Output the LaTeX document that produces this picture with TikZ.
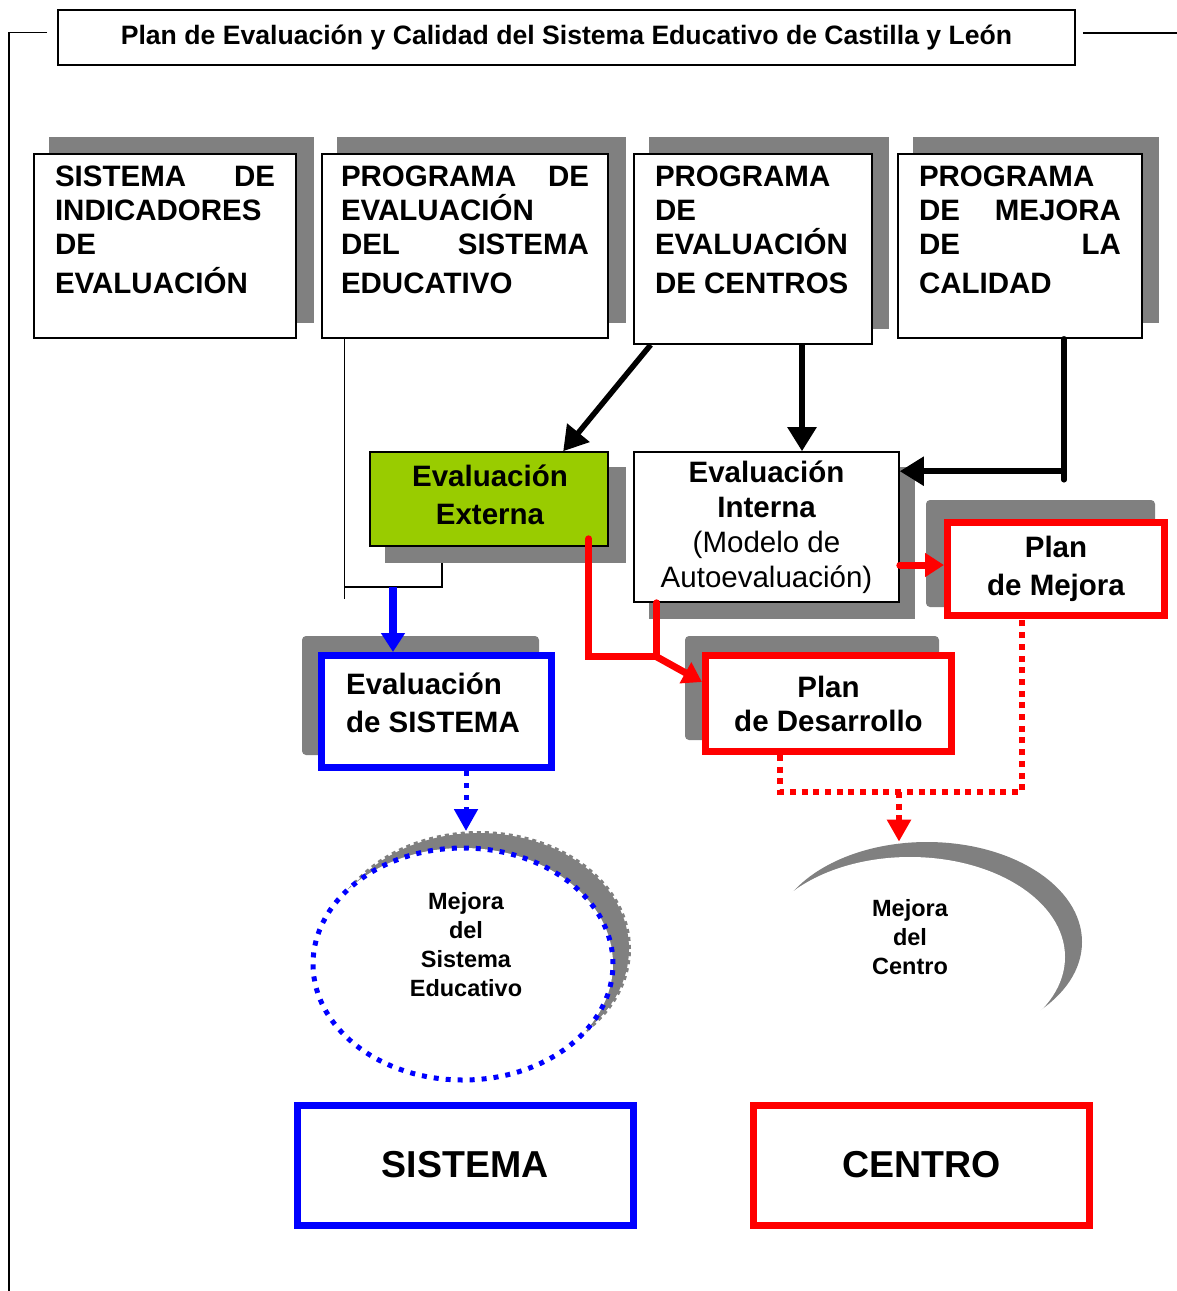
\documentclass[tikz,border=0pt]{standalone}
\usepackage{fontspec}
\setmainfont{Liberation Sans}
\usepackage{tikz}
\usetikzlibrary{calc,arrows.meta,shapes.geometric}
\definecolor{sombra}{RGB}{128,128,128}
\definecolor{verde}{RGB}{153,204,0}
\definecolor{rojo}{RGB}{255,0,0}
\definecolor{azul}{RGB}{0,0,255}
\tikzset{prog/.style={draw, line width=0.8pt, fill=white, inner xsep=10.5pt, inner ysep=6pt, font=\fontsize{14.75pt}{17pt}\selectfont\bfseries}}
\tikzset{evalbox/.style={draw, line width=0.8pt, align=center, inner sep=0pt, font=\fontsize{14.75pt}{19pt}\selectfont\bfseries}}
\tikzset{redbox/.style={evalbox, draw=rojo, line width=3.5pt, fill=white}}
\tikzset{bluebox/.style={evalbox, draw=azul, line width=3.5pt, fill=white}}
\tikzset{elip/.style={ellipse, inner sep=0pt, minimum width=150pt, minimum height=116pt}}
\tikzset{mtext/.style={align=center, font=\fontsize{11.75pt}{14.5pt}\selectfont\bfseries}}
\tikzset{bigbox/.style={line width=3.5pt, fill=white, minimum width=168pt, minimum height=60pt, font=\fontsize{18.75pt}{22pt}\selectfont\bfseries}}
\tikzset{thinline/.style={line width=0.7pt}}
\tikzset{blkarrow/.style={line width=2.75pt, -{Triangle[length=12pt,width=14pt]}}}
\tikzset{redline/.style={draw=rojo, line width=3.5pt, line cap=round}}
\tikzset{redarrow/.style={redline, -{Triangle[length=9.5pt,width=11.5pt]}}}
\tikzset{bluearrow/.style={draw=azul, line width=3.75pt, -{Triangle[length=9.5pt,width=11.5pt]}}}
\tikzset{reddot/.style={draw=rojo, line width=3pt, dash pattern=on 3pt off 2.85pt}}
\tikzset{bluedot/.style={draw=azul, line width=2.5pt, dash pattern=on 2.5pt off 3.5pt}}

\begin{document}
\begin{tikzpicture}[x=0.5pt, y=-0.5pt]
      \useasboundingbox (0,0) rectangle (1177,1291);

      %título
      \node[draw, line width=0.8pt, minimum width=508.5pt, minimum height=27.5pt, font=\fontsize{13.3pt}{16pt}\selectfont\bfseries] (tit) at (566.5,37.5) {Plan de Evaluación y Calidad del Sistema Educativo de Castilla y León};
      \coordinate (esq) at (9,1291);
      \coordinate (der) at (1177,33);
      \draw[line width=0.8pt] ([xshift=-5pt,yshift=2.5pt]tit.west) -| (esq);
      \draw[line width=0.8pt] ([xshift=3.5pt,yshift=2.25pt]tit.east) -- (der);

      %sombras
      \fill[sombra] (49,137) rectangle (314,323);
      \fill[sombra] (337,137) rectangle (626,323);
      \fill[sombra] (649,137) rectangle (889,329);
      \fill[sombra] (913,137) rectangle (1159,323);
      \fill[sombra] (385,467) rectangle (626,563);
      \fill[sombra] (649,467) rectangle (915,619);
      \fill[sombra, rounded corners=2pt] (926,500) rectangle (1155,607);
      \fill[sombra, rounded corners=2pt] (302,636) rectangle (539,755);
      \fill[sombra, rounded corners=2pt] (685,636) rectangle (939,740);

      %programas
      \node[prog] (sid) at (165,246) {\parbox[t][80pt][t]{110pt}{SISTEMA\hfill DE\\INDICADORES\\DE\\[2.5pt]EVALUACIÓN}};
      \node[prog, inner xsep=9.5pt] (pes) at (465,246) {\parbox[t][80pt][t]{124pt}{PROGRAMA\hfill DE\\EVALUACIÓN\\DEL\hfill SISTEMA\\[2.5pt]EDUCATIVO}};
      \node[prog] (pec) at (753,249) {\parbox[t][83pt][t]{98pt}{PROGRAMA\\DE\\EVALUACIÓN\\[2.5pt]DE CENTROS}};
      \node[prog] (pmc) at (1020,246) {\parbox[t][80pt][t]{101pt}{PROGRAMA\\DE\hfill MEJORA\\DE\hfill LA\\[2.5pt]CALIDAD}};

      %evaluaciones
      \node[evalbox, fill=verde, minimum width=119pt, minimum height=47pt] (ext) at (489,499) {};
      \node[evalbox, draw=none] (ext-t) at (490,495) {Evaluación\\Externa};
      \node[evalbox, fill=white, minimum width=132.5pt, minimum height=75pt, font=\fontsize{14.75pt}{17.5pt}\selectfont\bfseries] (int) at (766.5,527) {Evaluación\\Interna\\\mdseries(Modelo de\\\mdseries Autoevaluación)};
      \node[redbox, minimum width=108.5pt, minimum height=46.5pt] (mej) at (1056,569) {Plan\\de Mejora};
      \node[redbox, minimum width=123pt, minimum height=48pt, font=\fontsize{14.75pt}{17pt}\selectfont\bfseries] (des) at (828.5,703.5) {Plan\\de Desarrollo};
      \node[bluebox, minimum width=115pt, minimum height=56pt] (esis) at (436.5,711.5) {};
      \node[evalbox, draw=none, align=left] (esis-t) at (433,703) {Evaluación\\de SISTEMA};

      %mejoras
      \node[elip, fill=sombra, draw=sombra, line width=2pt, dash pattern=on 2pt off 2pt] (msis-s) at (479,949) {};
      \node[elip, fill=white, bluedot] (msis) at (463,964) {};
      \node[mtext] (msis-t) at (466,945) {Mejora\\del\\Sistema\\Educativo};
      \node[elip, fill=sombra, minimum width=155pt, minimum height=100pt] (mcen-s) at (927,942) {};
      \node[elip, fill=white, minimum width=155pt, minimum height=100pt] (mcen) at (910,957) {};
      \node[mtext] (mcen-t) at (910,937) {Mejora\\del\\Centro};

      %sistema y centro
      \node[bigbox, draw=azul] (sis) at (465,1165) {SISTEMA};
      \node[bigbox, draw=rojo] (cen) at (921.5,1165) {CENTRO};

      %flechas negras
      \coordinate (p1) at ([xshift=24.5pt]pec.south);
      \coordinate (p2) at ([xshift=22pt]pmc.south);
      \coordinate (p3) at ([yshift=-10pt]int.north east);
      \draw[blkarrow] ([xshift=8.75pt]pec.south west) -- ([xshift=97pt]ext.north west);
      \draw[blkarrow] (p1) -- (p1 |- int.north);
      \draw[line width=2.75pt, line cap=round] (p2) -- ++(0,141);
      \draw[blkarrow] (p2 |- p3) -- (p3);

      %llave fina -> evaluación de sistema
      \coordinate (b1) at ([xshift=11.75pt]pes.south west);
      \coordinate (b2) at (442,563);
      \coordinate (b3) at (393,587);
      \draw[thinline] (b1) -- ++(0,260);
      \draw[thinline] (b2) |- (b1 |- b3);
      \draw[bluearrow] (b3) -- (b3 |- esis.north);

      %rojas
      \coordinate (r1) at ([xshift=-10pt,yshift=4pt]ext.south east);
      \coordinate (r2) at ([xshift=11.75pt]int.south west);
      \coordinate (rj) at ([yshift=-27pt]r2);
      \coordinate (r3) at ([yshift=-19pt]int.east);
      \draw[redline] (r1) -- (r1 |- rj) -- (rj);
      \draw[redline] (r2) -- (rj);
      \draw[redarrow] (rj) -- ([yshift=-15pt]des.north west);
      \draw[redarrow] (r3) -- (r3 -| mej.west);

      %punteadas
      \coordinate (d1) at ([xshift=-24.25pt]des.south);
      \coordinate (d2) at ([xshift=-17pt]mej.south);
      \coordinate (d3) at (899,792);
      \coordinate (a1) at ([xshift=14.75pt]esis.south);
      \draw[reddot] (d1) |- (d3) -| (d2);
      \draw[reddot, -{Triangle[length=11pt,width=11.5pt]}] (d3) -- (d3 |- mcen-s.north);
      \draw[bluedot, -{Triangle[length=11pt,width=11.5pt]}] (a1) -- (a1 |- msis-s.north);

\end{tikzpicture}
\end{document}
